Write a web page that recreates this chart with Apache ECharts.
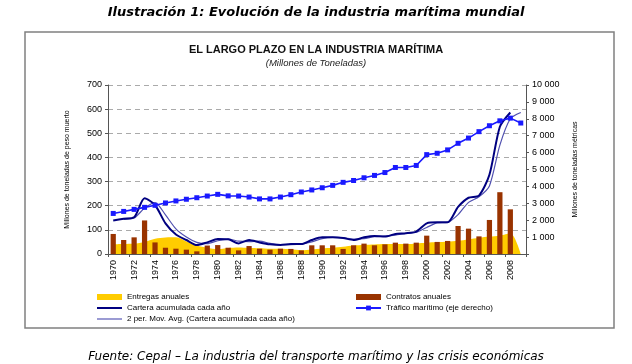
<!DOCTYPE html>
<html><head><meta charset="utf-8">
<script src="https://cdn.jsdelivr.net/npm/echarts@6/dist/echarts.min.js"></script>
<style>html,body{margin:0;padding:0;background:#fff}#c{width:632px;height:364px}</style>
</head><body><div id="c"></div>
<script>
const years = [];
for (let y = 1970; y <= 2009; y++) years.push(String(y));
const contratos = [83,58,69,139,48,26,22,18,11,35,37,26,15,33,22,18,22,21,15,36,36,36,21,36,43,36,40,47,43,47,76,50,54,116,105,73,141,256,185,null];
const entregas = [40,41,43,50,63,68,69,52,35,26,20,25,27,25,24,22,22,20,16,19,23,26,30,35,37,39,41,41,41,44,47,50,51,55,60,67,72,76,86,0];
const cartera = [139,146,152,231,203,127,81,58,37,48,62,61,44,58,48,40,37,41,41,58,69,69,66,58,69,75,72,83,86,93,127,131,131,195,233,242,328,527,586,null];
const mavg = [null,143,149,190,213,162,104,70,48,43,55,62,53,51,53,44,39,39,41,50,64,69,68,62,64,72,74,78,85,90,110,129,131,163,214,237,282,451,560,586];
const trafico = [2400,2520,2640,2760,2880,3020,3140,3240,3330,3430,3530,3440,3430,3370,3260,3260,3370,3510,3670,3790,3920,4060,4240,4350,4510,4650,4820,5120,5120,5240,5880,5960,6160,6550,6860,7240,7590,7880,8040,7750];
const leftTicks = [0,100,200,300,400,500,600,700];
const rightTicks = [0,1000,2000,3000,4000,5000,6000,7000,8000,9000,10000];

const F = 'Liberation Sans, Arial, sans-serif';
const chart = echarts.init(document.getElementById('c'));
const fmtSp = v => v === 0 ? '' : String(v).replace(/\B(?=(\d{3})+(?!\d))/g, ' ');
chart.setOption({
  animation: false,
  backgroundColor: '#fff',
  title: [
    {text: 'Ilustración 1: Evolución de la industria marítima mundial', left: 'center', top: 1,
     textStyle: {fontFamily: 'DejaVu Sans', fontStyle: 'italic', fontWeight: 'bold', fontSize: 13, color: '#000'}},
    {text: 'EL LARGO PLAZO EN LA INDUSTRIA MARÍTIMA', left: 'center', top: 39,
     textStyle: {fontFamily: F, fontWeight: 'bold', fontSize: 11, color: '#111'}},
    {text: '(Millones de Toneladas)', left: 'center', top: 53,
     textStyle: {fontFamily: F, fontStyle: 'italic', fontWeight: 'normal', fontSize: 9.5, color: '#222'}},
    {text: 'Fuente: Cepal – La industria del transporte marítimo y las crisis económicas', left: 'center', top: 346,
     textStyle: {fontFamily: 'DejaVu Sans', fontStyle: 'italic', fontWeight: 'normal', fontSize: 12, color: '#000'}}
  ],
  graphic: [{type: 'rect', shape: {x: 25, y: 32, width: 589, height: 296}, style: {fill: 'none', stroke: '#808080', lineWidth: 1.5}, silent: true}],
  legend: [
    {data: [{name: 'Entregas anuales', icon: 'rect'},
            {name: 'Cartera acumulada cada año', icon: 'path://M0 0H25V2H0Z'},
            {name: '2 per. Mov. Avg. (Cartera acumulada cada año)', icon: 'path://M0 0H25V1.4H0Z'}],
     orient: 'vertical', left: 97, top: 292, itemWidth: 25, itemHeight: 6, itemGap: 1, padding: 0,
     textStyle: {fontFamily: F, fontSize: 8, color: '#000', lineHeight: 10}},
    {data: [{name: 'Contratos anuales', icon: 'rect'}, 'Tráfico marítimo (eje derecho)'],
     orient: 'vertical', left: 355, top: 292, itemWidth: 25, itemHeight: 6, itemGap: 1, padding: 0,
     textStyle: {fontFamily: F, fontSize: 8, color: '#000', lineHeight: 10}}
  ],
  grid: {left: 108, right: 106, top: 85, bottom: 110},
  xAxis: {
    type: 'category', data: years, boundaryGap: true,
    axisLine: {lineStyle: {color: '#555', width: 1}},
    axisTick: {show: true, length: 3, lineStyle: {color: '#555'}},
    axisLabel: {rotate: 90, interval: 1, fontFamily: F, fontSize: 9, color: '#000', margin: 6}
  },
  yAxis: [
    {type: 'value', min: 0, max: 700, interval: 100,
     name: 'Millones de toneladas de peso muerto', nameLocation: 'middle', nameRotate: 90, nameGap: 37,
     nameTextStyle: {fontFamily: F, fontSize: 7, color: '#000'},
     axisLine: {show: true, lineStyle: {color: '#555', width: 1}},
     axisTick: {show: true, length: 3, lineStyle: {color: '#555'}},
     axisLabel: {fontFamily: F, fontSize: 9, color: '#000', margin: 6},
     splitLine: {show: true, lineStyle: {color: '#aaa', type: [5, 4], width: 1}}},
    {type: 'value', min: 0, max: 10000, interval: 1000, position: 'right',
     name: 'Millones de toneladas métricas', nameLocation: 'middle', nameRotate: 90, nameGap: 46,
     nameTextStyle: {fontFamily: F, fontSize: 7, color: '#000'},
     axisLine: {show: true, lineStyle: {color: '#555', width: 1}},
     axisTick: {show: true, length: 3, lineStyle: {color: '#555'}},
     axisLabel: {fontFamily: F, fontSize: 9, color: '#000', margin: 6, formatter: fmtSp},
     splitLine: {show: false}}
  ],
  series: [
    {name: 'Entregas anuales', type: 'line', data: entregas, smooth: 0.3, symbol: 'none',
     lineStyle: {width: 0}, itemStyle: {color: '#FFCC00'}, areaStyle: {color: '#FFCC00', opacity: 1}, z: 1},
    {name: 'Contratos anuales', type: 'bar', data: contratos, barWidth: '50%',
     itemStyle: {color: '#993300'}, z: 2},
    {name: 'Cartera acumulada cada año', type: 'line', data: cartera, smooth: 0.25, symbol: 'none',
     lineStyle: {color: '#000080', width: 2}, itemStyle: {color: '#000080'}, z: 4},
    {name: '2 per. Mov. Avg. (Cartera acumulada cada año)', type: 'line', data: mavg, smooth: 0.25, symbol: 'none',
     lineStyle: {color: '#5050B0', width: 1.2}, itemStyle: {color: '#7070C0'}, z: 3},
    {name: 'Tráfico marítimo (eje derecho)', type: 'line', yAxisIndex: 1, data: trafico, symbol: 'rect', symbolSize: 5,
     lineStyle: {color: '#1A1AFF', width: 1.6}, itemStyle: {color: '#1A1AFF'}, z: 5}
  ]
});
</script></body></html>
